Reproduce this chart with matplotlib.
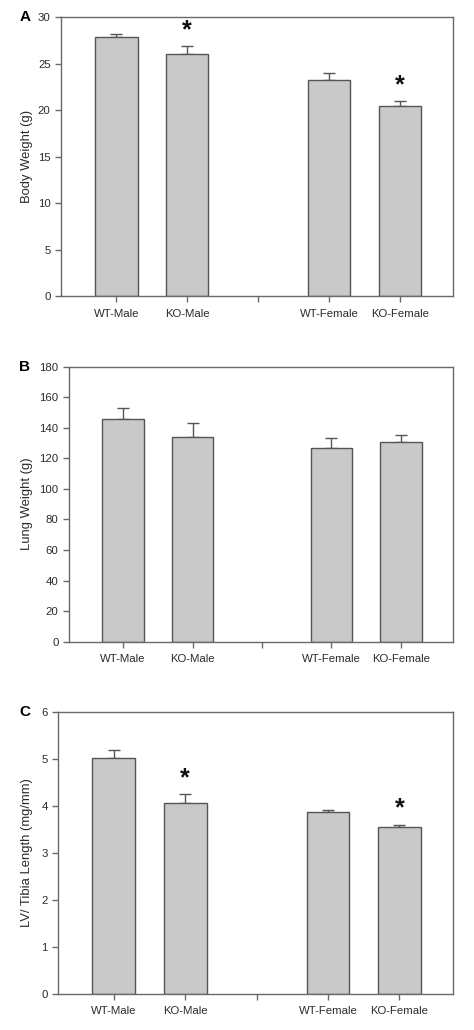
import matplotlib
matplotlib.use("Agg")
import matplotlib.pyplot as plt
import matplotlib.transforms as mtransforms

plt.rcParams['font.family'] = ['Liberation Sans', 'DejaVu Sans']

categories = ['WT-Male', 'KO-Male', 'WT-Female', 'KO-Female']

body_weight = [27.9, 26.1, 23.2, 20.5]
body_weight_err = [0.3, 0.8, 0.8, 0.5]
body_sig = [False, True, False, True]

lung_weight = [146, 134, 127, 131]
lung_weight_err = [7, 9, 6, 4]
lung_sig = [False, False, False, False]

lv_tibia = [5.03, 4.07, 3.87, 3.55]
lv_tibia_err = [0.15, 0.18, 0.04, 0.05]
lv_sig = [False, True, False, True]

BAR = '#c9c9c9'
EDGE = '#555555'
SPINE = '#6a6a6a'


def panel(fig, ax, vals, errs, sig, ylim, step, ylabel, letter, star_off):
    # two groups (male / female) with an empty slot between them
    xs = [1, 2, 4, 5]
    ax.bar(xs, vals, width=0.6, color=BAR, edgecolor=EDGE, linewidth=1.0, zorder=2)
    ax.errorbar(xs, vals, yerr=[[0] * len(errs), errs], fmt='none', ecolor=EDGE,
                elinewidth=1.0, capsize=4, capthick=1.0, zorder=1)
    for x, v, e, s in zip(xs, vals, errs, sig):
        if s:
            ax.text(x, v + e + star_off, '*', ha='center', va='center',
                    fontsize=18, fontweight='bold', color='#111111')
    ax.set_xlim(0.22, 5.75)
    ax.set_ylim(*ylim)
    ax.set_yticks([ylim[0] + i * step for i in range(int(round((ylim[1] - ylim[0]) / step)) + 1)])
    ax.set_xticks([1, 2, 3, 4, 5])
    ax.set_xticklabels([categories[0], categories[1], '', categories[2], categories[3]])
    for sp in ax.spines.values():
        sp.set_color(SPINE)
        sp.set_linewidth(1.0)
    ax.tick_params(axis='both', colors=SPINE, length=4, width=1.0, labelsize=8.2,
                   labelcolor='#2a2a2a')
    ax.tick_params(axis='x', pad=5)
    ax.set_ylabel(ylabel, fontsize=9.4, color='#2a2a2a')
    tr = mtransforms.blended_transform_factory(fig.transFigure, ax.transAxes)
    ax.yaxis.set_label_coords(33 / 474, 0.5, transform=tr)
    ax.text(25 / 474, 1.0, letter, transform=tr, fontsize=11,
            fontweight='bold', ha='center', va='center')


fig = plt.figure(figsize=(4.74, 10.30), dpi=100)

axA = fig.add_axes([0.1287, 0.7126, 0.827, 0.2706])
panel(fig, axA, body_weight, body_weight_err, body_sig, (0, 30), 5, 'Body Weight (g)', 'A', 1.7)

axB = fig.add_axes([0.1456, 0.377, 0.810, 0.267])
panel(fig, axB, lung_weight, lung_weight_err, lung_sig, (0, 180), 20, 'Lung Weight (g)', 'B', 8)

axC = fig.add_axes([0.1224, 0.035, 0.8333, 0.2738])
panel(fig, axC, lv_tibia, lv_tibia_err, lv_sig, (0, 6), 1, 'LV/ Tibia Length (mg/mm)', 'C', 0.34)

fig.savefig('out.png', dpi=100)
